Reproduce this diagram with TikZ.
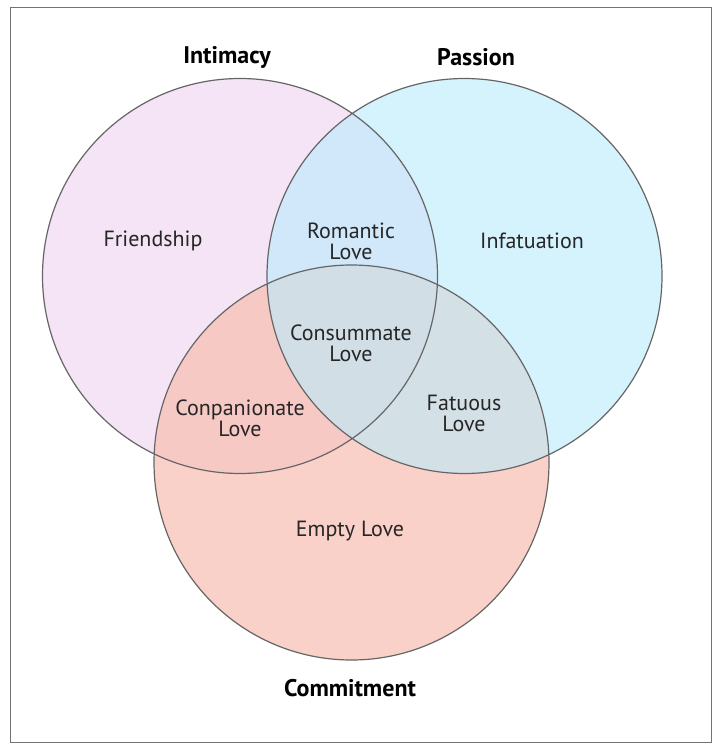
\documentclass[tikz,border=0pt]{standalone}
\usepackage{fontspec}
\setmainfont{PT Sans}
\definecolor{cI}{RGB}{244,228,245}
\definecolor{cP}{RGB}{185,236,252}
\definecolor{cC}{RGB}{248,190,178}
\begin{document}
\begin{tikzpicture}[x=1pt,y=-1pt,
  lab/.style={align=center,font=\fontsize{22}{21}\selectfont,text=black!85,inner sep=1pt},
  ttl/.style={font=\fontsize{24}{24}\selectfont\bfseries}]
\useasboundingbox (0,0) rectangle (720,749);
\fill[white] (0,0) rectangle (720,749);
\draw[black!55,line width=1pt] (10,8) rectangle (711,742);
\fill[cI] (240,276) circle (197.5);
\fill[cC,fill opacity=0.7] (351.5,462.5) circle (197.5);
\fill[cP,fill opacity=0.6] (464.5,276) circle (197.5);
\draw[black!60,line width=1.2pt] (240,276) circle (197.5) (464.5,276) circle (197.5) (351.5,462.5) circle (197.5);
\node[ttl] (ti) at (227,57) {Intimacy};
\node[ttl] (tp) at (476,57) {Passion};
\node[ttl] (tc) at (350,688) {Commitment};
\node[lab] (fr) at (153,241) {Friendship};
\node[lab] (inf) at (532,241) {Infatuation};
\node[lab] (ro) at (351,241) {Romantic\\Love};
\node[lab] (co) at (351,343) {Consummate\\Love};
\node[lab] (cp) at (240,418) {Conpanionate\\Love};
\node[lab] (fa) at (464,413) {Fatuous\\Love};
\node[lab] (em) at (350,531) {Empty Love};
\end{tikzpicture}
\end{document}
